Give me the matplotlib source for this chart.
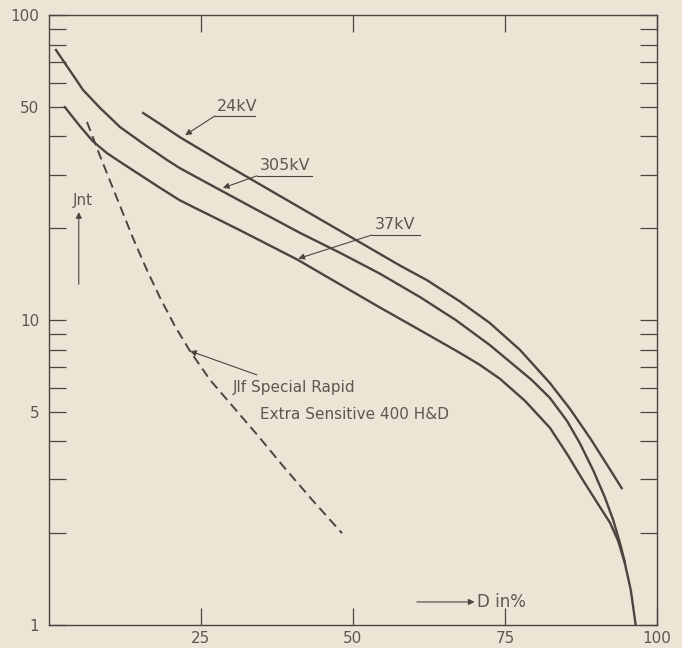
import matplotlib
matplotlib.use("Agg")
import matplotlib.pyplot as plt
from matplotlib.ticker import FixedLocator, NullFormatter

# D in % (x) and Jnt (y, log)
d_24 = [15.5, 18.3, 21.5, 28.1, 38.0, 47.9, 57.7, 62.2, 67.6, 72.5,
        77.5, 82.4, 85.7, 89.0, 91.8, 94.2]
j_24 = [47.7, 43.9, 39.8, 33.2, 25.5, 19.6, 15.1, 13.5, 11.5, 9.78,
        7.97, 6.21, 5.11, 4.10, 3.35, 2.81]

d_305 = [1.15, 2.6, 4.3, 5.6, 8.4, 11.7, 15.8, 19.4, 21.5, 24.8, 33.1, 41.3,
         47.9, 54.4, 61.0, 66.9, 72.5, 79.4, 82.4, 85.2, 87.3, 89.5, 91.4,
         92.8, 93.9, 94.7]
j_305 = [76.8, 69.6, 62.1, 56.8, 49.6, 42.9, 37.5, 33.5, 31.5, 29.0, 23.6, 19.3,
         16.6, 14.2, 11.9, 10.0, 8.28, 6.36, 5.55, 4.67, 3.95, 3.22, 2.63,
         2.21, 1.86, 1.61]

d_37 = [2.6, 5.1, 7.2, 9.5, 11.7, 15.0, 18.3, 21.5, 31.4, 40.8, 46.7, 54.4,
        61.0, 67.6, 70.9, 74.2, 78.3, 82.4, 85.2, 87.8, 90.1, 92.3, 93.6,
        94.7, 95.7, 96.5]
j_37 = [49.9, 43.2, 38.6, 35.3, 33.0, 29.9, 27.1, 24.7, 19.7, 15.8, 13.5, 11.0,
        9.27, 7.80, 7.12, 6.41, 5.43, 4.43, 3.64, 2.99, 2.53, 2.16, 1.89,
        1.60, 1.30, 1.0]

d_film = [6.25, 8.4, 10.9, 13.8, 16.1, 18.3, 20.7, 23.2, 26.5, 30.3, 34.4,
          38.5, 43.3, 48.2]
j_film = [44.6, 34.5, 25.9, 18.6, 14.6, 11.8, 9.56, 7.91, 6.36, 5.19, 4.17,
          3.32, 2.57, 2.0]

x_ticks = [25, 50, 75, 100]
y_ticks = [1, 5, 10, 50, 100]
y_minor = [2, 3, 4, 6, 7, 8, 9, 20, 30, 40, 60, 70, 80, 90]

bg = "#ece5d5"
ink = "#4a4540"
txt = "#5c5750"

plt.rcParams['font.family'] = ['DejaVu Sans']
fig = plt.figure(figsize=(6.82, 6.48), dpi=100, facecolor=bg)
ax = fig.add_axes([0.0718, 0.0355, 0.8915, 0.9413], facecolor=bg)

for xs, ys in [(d_24, j_24), (d_305, j_305), (d_37, j_37)]:
    ax.plot(xs, ys, color=ink, lw=1.7, solid_joinstyle='round')
ax.plot(d_film, j_film, color=ink, lw=1.4, dashes=(5, 2.8))

ax.set_yscale('log')
ax.set_xlim(0, 100)
ax.set_ylim(1, 100)

ax.xaxis.set_major_locator(FixedLocator(x_ticks))
ax.set_xticklabels([str(v) for v in x_ticks])
ax.yaxis.set_major_locator(FixedLocator(y_ticks))
ax.set_yticklabels([str(v) for v in y_ticks])
ax.yaxis.set_minor_locator(FixedLocator(y_minor))
ax.yaxis.set_minor_formatter(NullFormatter())

ax.tick_params(axis='both', which='both', direction='in', length=12, width=0.9,
               color=ink, labelcolor=txt, labelsize=11)
ax.tick_params(axis='y', which='both', right=True, pad=7)
ax.tick_params(axis='x', top=True, pad=4)
for s in ax.spines.values():
    s.set_color(ink)
    s.set_linewidth(1.0)

arrow = dict(arrowstyle='-|>', color=ink, lw=0.8, mutation_scale=9, shrinkA=0, shrinkB=0)

# curve labels with underline and leader
labels = [("24kV", 31.0, 50.3, 27.3, 33.9, 46.7, 22.4, 40.4),
          ("305kV", 38.9, 32.0, 34.2, 43.3, 29.7, 28.6, 27.1),
          ("37kV", 57.0, 20.6, 53.1, 61.0, 19.0, 41.0, 15.9)]
for name, tx, ty, ux0, ux1, uy, px, py in labels:
    ax.text(tx, ty, name, ha='center', va='center', color=txt, fontsize=11.5)
    ax.plot([ux0, ux1], [uy, uy], color=ink, lw=0.8)
    ax.annotate('', xy=(px, py), xytext=(ux0, uy), arrowprops=arrow)

ax.text(30.3, 6.03, "Jlf Special Rapid", ha='left', va='center', color=txt, fontsize=11)
ax.text(34.7, 4.89, "Extra Sensitive 400 H&D", ha='left', va='center', color=txt, fontsize=11)
ax.annotate('', xy=(23.2, 7.91), xytext=(34.2, 6.61), arrowprops=arrow)

ax.text(3.9, 24.7, "Jnt", ha='left', va='center', color=txt, fontsize=11)
ax.annotate('', xy=(4.9, 22.6), xytext=(4.9, 13.1), arrowprops=arrow)

ax.annotate('', xy=(70.0, 1.19), xytext=(60.5, 1.19), arrowprops=arrow)
ax.text(70.4, 1.19, "D in%", ha='left', va='center', color=txt, fontsize=12)

fig.savefig("out.png", dpi=100, facecolor=bg)
